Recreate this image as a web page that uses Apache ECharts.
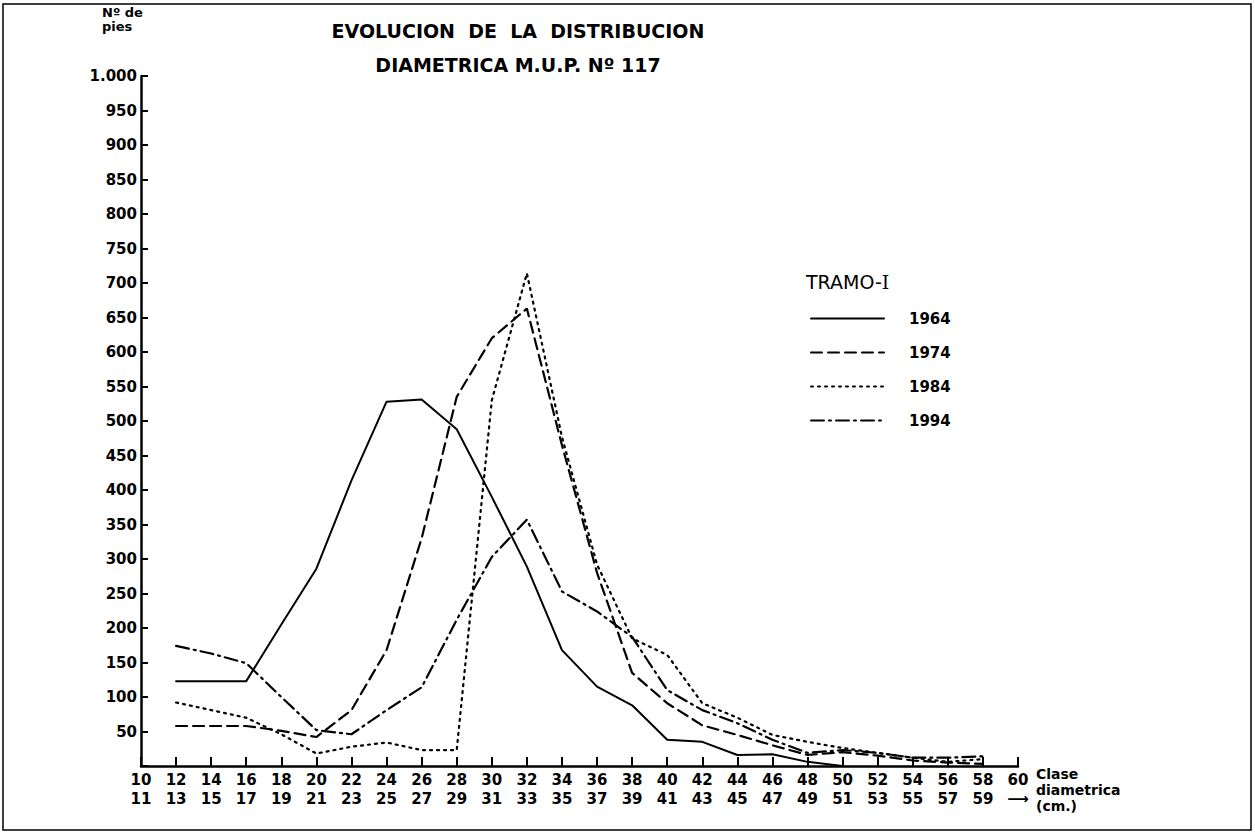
<!DOCTYPE html>
<html>
<head>
<meta charset="utf-8">
<script src="https://cdn.jsdelivr.net/npm/echarts@6/dist/echarts.min.js"></script>
<style>
  html, body { margin: 0; padding: 0; background: #fff; }
  #chart { width: 1255px; height: 834px; }
</style>
</head>
<body>
<div id="chart"></div>
<script>
// clase diametrica (lower bound of each 2 cm class)
const clases = [12, 14, 16, 18, 20, 22, 24, 26, 28, 30, 32, 34, 36, 38, 40, 42, 44, 46, 48, 50, 52, 54, 56, 58];

// Nº de pies per inventory year
const pies1964 = [123, 123, 123, 205, 286, 414, 528, 531, 488, 390, 289, 168, 115, 88, 38, 35, 16, 17, 6, 0];
const pies1974 = [58, 58, 58, 51, 42, 81, 168, 330, 535, 620, 663, 465, 280, 135, 91, 59, 45, 30, 16, 20, 15, 8, 5, 3];
const pies1984 = [92, 81, 70, 46, 18, 28, 34, 23, 23, 530, 714, 477, 292, 185, 161, 91, 70, 45, 35, 26, 19, 12, 6, 10];
const pies1994 = [174, 163, 149, 100, 52, 46, 81, 114, 212, 303, 357, 253, 224, 187, 110, 81, 62, 38, 19, 23, 19, 12, 12, 14];

const years = ['1964', '1974', '1984', '1994'];
const dashes = ['solid', [11, 6], [2, 5], [13, 5, 2, 5]];

const FONT = 'DejaVu Sans';

function pairs(vals) {
  return vals.map((v, i) => [clases[i], v]);
}

const chart = echarts.init(document.getElementById('chart'), null, { renderer: 'svg' });

const option = {
  backgroundColor: '#fff',
  animation: false,
  grid: { left: 141, right: 237, top: 76, bottom: 68 },
  legend: {
    orient: 'vertical',
    left: 805,
    top: 306,
    itemWidth: 73,
    itemHeight: 14,
    itemGap: 19,
    data: years,
    itemStyle: { opacity: 0 },
    textStyle: { fontFamily: FONT, fontWeight: 'bold', fontSize: 15, color: '#000', padding: [0, 0, 0, 20] },
    selectedMode: false
  },
  xAxis: {
    type: 'value',
    min: 10,
    max: 60,
    interval: 2,
    axisLine: { lineStyle: { color: '#000', width: 2.5 } },
    axisTick: { inside: true, length: 9, lineStyle: { color: '#000', width: 2 } },
    splitLine: { show: false },
    axisLabel: {
      color: '#000',
      fontFamily: FONT,
      fontWeight: 'bold',
      fontSize: 15,
      lineHeight: 19,
      margin: 4,
      formatter: v => v === 60 ? '60\n\u27F6' : v + '\n' + (v + 1)
    }
  },
  yAxis: {
    type: 'value',
    min: 0,
    max: 1000,
    interval: 50,
    axisLine: { show: true, lineStyle: { color: '#000', width: 2.5 } },
    axisTick: { show: true, inside: true, length: 7, lineStyle: { color: '#000', width: 2 } },
    splitLine: { show: false },
    axisLabel: {
      color: '#000',
      fontFamily: FONT,
      fontWeight: 'bold',
      fontSize: 15,
      margin: 4,
      formatter: v => v === 0 ? '' : (v === 1000 ? '1.000' : String(v))
    }
  },
  series: [pies1964, pies1974, pies1984, pies1994].map((vals, i) => ({
    name: years[i],
    type: 'line',
    symbol: 'none',
    data: pairs(vals),
    lineStyle: { color: '#000', width: i === 0 ? 2 : 2.2, type: dashes[i], cap: 'round' },
    itemStyle: { color: '#000' }
  })),
  graphic: [
    { type: 'rect', shape: { x: 3, y: 4, width: 1248, height: 826 }, style: { fill: 'none', stroke: '#000', lineWidth: 1.5 } },
    { type: 'text', x: 518, y: 21, style: { text: 'EVOLUCION  DE  LA  DISTRIBUCION', font: 'bold 19px "DejaVu Sans"', fill: '#000', align: 'center' } },
    { type: 'text', x: 518, y: 55, style: { text: 'DIAMETRICA M.U.P. Nº 117', font: 'bold 19px "DejaVu Sans"', fill: '#000', align: 'center' } },
    { type: 'text', x: 102, y: 5, style: { text: 'Nº de\npies', font: 'bold 13px "DejaVu Sans"', lineHeight: 14, fill: '#000' } },
    {
      type: 'text', x: 806, y: 272,
      style: {
        text: '{a|TRAMO-}{b|I}',
        rich: {
          a: { fontFamily: FONT, fontSize: 19, fill: '#000', color: '#000' },
          b: { fontFamily: 'DejaVu Serif', fontSize: 19, fill: '#000', color: '#000' }
        }
      }
    },
    { type: 'text', x: 1036, y: 766, style: { text: 'Clase\ndiametrica\n(cm.)', font: 'bold 14px "DejaVu Sans"', lineHeight: 16, fill: '#000' } }
  ]
};

chart.setOption(option);
</script>
</body>
</html>
